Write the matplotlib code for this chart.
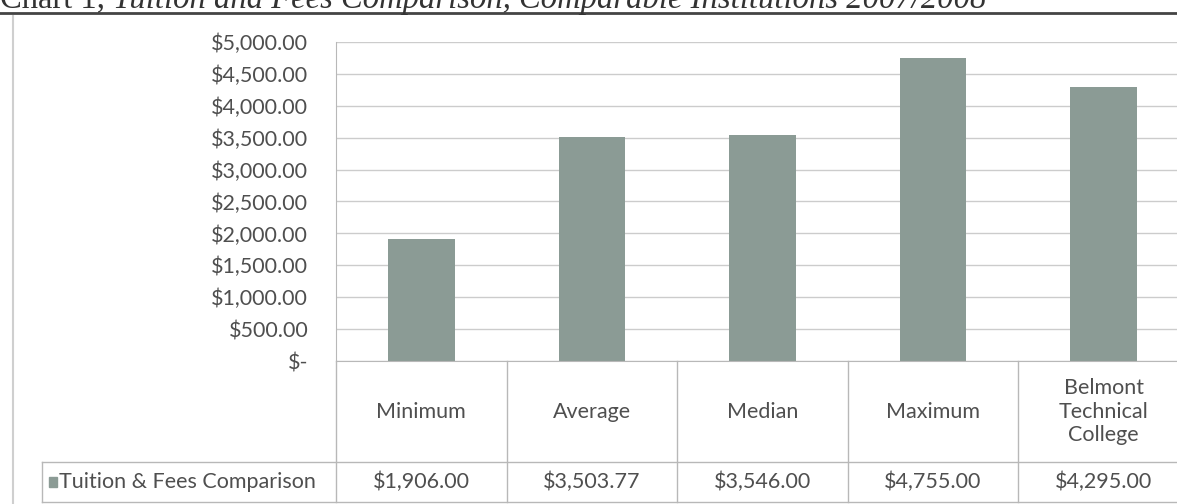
import matplotlib
matplotlib.use("Agg")
import matplotlib.pyplot as plt
import matplotlib.transforms as mtransforms
from matplotlib.lines import Line2D
from matplotlib.patches import Rectangle

# data
categories = ["Minimum", "Average", "Median", "Maximum", "Belmont\nTechnical\nCollege"]
values = [1906.00, 3503.77, 3546.00, 4755.00, 4295.00]
value_labels = ["$1,906.00", "$3,503.77", "$3,546.00", "$4,755.00", "$4,295.00"]
series_name = "Tuition & Fees Comparison"
yticks = [0, 500, 1000, 1500, 2000, 2500, 3000, 3500, 4000, 4500, 5000]
ytick_labels = ["$-", "$500.00", "$1,000.00", "$1,500.00", "$2,000.00", "$2,500.00",
                "$3,000.00", "$3,500.00", "$4,000.00", "$4,500.00", "$5,000.00"]

W, H = 1177, 504
bar_color = "#8b9b95"
txt_color = "#4f4f4f"
line_color = "#b8b8b8"
font = "Lato"
fs = 15.5

fig = plt.figure(figsize=(W / 100, H / 100), dpi=100)
fig.patch.set_facecolor("white")

# plot area in pixels: left 336, right 1189 (runs off the page), top 42, bottom 361
ax = fig.add_axes([336 / W, (H - 361) / H, (1189 - 336) / W, (361 - 42) / H])
ax.bar(range(len(values)), values, width=0.39, color=bar_color, zorder=2)
ax.set_xlim(-0.5, len(values) - 0.5)
ax.set_ylim(0, 5000)
ax.set_yticks(yticks)
ax.set_yticklabels(ytick_labels, fontsize=fs, color=txt_color, family=font)
ax.tick_params(axis="y", length=0, pad=20)
ax.set_xticks([])
ax.grid(axis="y", color="#cccccc", linewidth=1.0, zorder=0)
for s in ["top", "right"]:
    ax.spines[s].set_visible(False)
ax.spines["left"].set_color(line_color)
ax.spines["bottom"].set_color(line_color)

# data table below the plot
tr = mtransforms.blended_transform_factory(ax.transData, ax.transAxes)
ph = 361 - 42
y_head = 0.0
y_mid = -(462 - 361) / ph
y_bot = -(502 - 361) / ph
x_lab = -0.5 - (336 - 42) / ((1189 - 336) / len(values))
x_end = len(values) - 0.5

def seg(x0, x1, y0, y1):
    ax.add_line(Line2D([x0, x1], [y0, y1], transform=tr, color=line_color,
                       linewidth=1.0, clip_on=False))

seg(x_lab, x_end, y_mid, y_mid)
seg(x_lab, x_end, y_bot, y_bot)
seg(x_lab, x_lab, y_mid, y_bot)
for i in range(len(values) + 1):
    seg(i - 0.5, i - 0.5, y_head, y_bot)

for i, (c, v) in enumerate(zip(categories, value_labels)):
    ax.text(i, (y_head + y_mid) / 2, c, transform=tr, ha="center", va="center",
            fontsize=fs, color=txt_color, family=font, linespacing=1.2)
    ax.text(i, (y_mid + y_bot) / 2, v, transform=tr, ha="center", va="center",
            fontsize=fs, color=txt_color, family=font)

ax.add_patch(Rectangle((x_lab + 0.04, (y_mid + y_bot) / 2 - 0.017), 0.045, 0.034,
                       transform=tr, color=bar_color, clip_on=False))
ax.text(x_lab + 0.1, (y_mid + y_bot) / 2, series_name, transform=tr, ha="left",
        va="center", fontsize=fs, color=txt_color, family=font)

# page border and title rule
fig.add_artist(Line2D([13 / W, 13 / W], [0, 1 - 16 / H], color="#cfcfcf", linewidth=1.5))
fig.add_artist(Line2D([0, 1], [1 - 13 / H, 1 - 13 / H], color="#444444", linewidth=2.0))

# title, cut off at the top of the scan
t1 = fig.text(0.0, 1 - 8 / H, "Chart 1, ", fontsize=23.5, family="Liberation Serif",
              color="#333333", va="baseline", ha="left")
fig.canvas.draw()
bb = t1.get_window_extent()
fig.text(bb.x1 / W, 1 - 8 / H, "Tuition and Fees Comparison, Comparable Institutions 2007/2008",
         fontsize=23.5, family="Liberation Serif", style="italic", color="#333333",
         va="baseline", ha="left")

fig.savefig("out.png", dpi=100, facecolor="white")
